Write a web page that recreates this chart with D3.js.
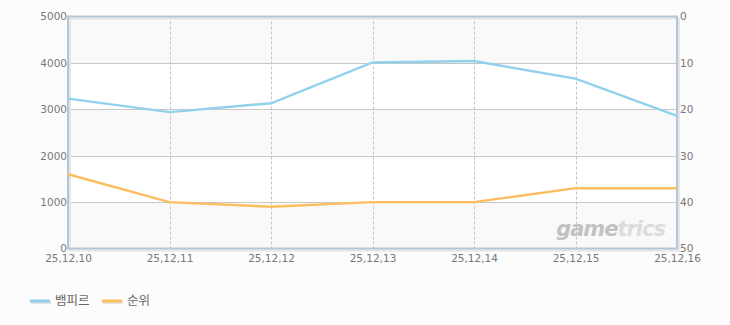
<!DOCTYPE html>
<html>
<head>
<meta charset="utf-8">
<script src="https://cdn.jsdelivr.net/npm/d3@7"></script>
<style>
  body { margin: 0; background: #fcfcfc; }
  svg { display: block; font-family: "DejaVu Sans", "Noto Sans CJK KR", sans-serif; }
</style>
</head>
<body>
<svg id="chart" width="730" height="325"></svg>
<script>
// data
const dates = ["25,12,10", "25,12,11", "25,12,12", "25,12,13", "25,12,14", "25,12,15", "25,12,16"];
const users = [3230, 2940, 3130, 4010, 4040, 3660, 2860];
const rank = [34, 40, 41, 40, 40, 37, 37];
const leftTicks = [0, 1000, 2000, 3000, 4000, 5000];
const rightTicks = [0, 10, 20, 30, 40, 50];
const seriesNames = ["뱀피르", "순위"];
const colors = ["#92d1ee", "#fbbd5e"];

const width = 730, height = 325;
const margin = {left: 68, right: 53, top: 16.5, bottom: 76.5};
const svg = d3.select("#chart");

const x = d3.scalePoint().domain(dates).range([margin.left, width - margin.right]);
const yL = d3.scaleLinear().domain([0, 5000]).range([height - margin.bottom, margin.top]);
const yR = d3.scaleLinear().domain([0, 50]).range([margin.top, height - margin.bottom]);

// alternating bands
const bands = d3.pairs(leftTicks);
svg.append("g").selectAll("rect")
  .data(bands)
  .join("rect")
    .attr("x", margin.left)
    .attr("width", width - margin.left - margin.right)
    .attr("y", d => yL(d[1]))
    .attr("height", d => yL(d[0]) - yL(d[1]))
    .attr("fill", (d, i) => i % 2 == 0 ? "#f9f9f9" : "#ffffff");

// horizontal grid
svg.append("g").selectAll("line")
  .data(leftTicks.slice(1, -1))
  .join("line")
    .attr("x1", margin.left).attr("x2", width - margin.right)
    .attr("y1", d => Math.round(yL(d)) + 0.5).attr("y2", d => Math.round(yL(d)) + 0.5)
    .attr("stroke", "#c8c8c8");

// vertical dashed grid
svg.append("g").selectAll("line")
  .data(dates.slice(1, -1))
  .join("line")
    .attr("x1", d => Math.round(x(d)) + 0.5).attr("x2", d => Math.round(x(d)) + 0.5)
    .attr("y1", margin.top).attr("y2", height - margin.bottom)
    .attr("stroke", "#c4c4c4")
    .attr("stroke-dasharray", "3,2");

// watermark
const wm = svg.append("text")
  .attr("x", 665).attr("y", 236)
  .attr("text-anchor", "end")
  .attr("font-family", "DejaVu Sans")
  .attr("font-weight", "bold")
  .attr("font-style", "italic")
  .attr("font-size", 21)
  .attr("letter-spacing", -1);
wm.append("tspan").attr("fill", "#c2c2c2").text("game");
wm.append("tspan").attr("fill", "#dcdcdc").text("trics");

// frame with shadow
const fx = margin.left, fy = margin.top;
const fw = width - margin.left - margin.right, fh = height - margin.top - margin.bottom;
svg.append("rect")
  .attr("x", fx + 2).attr("y", fy + 2).attr("width", fw).attr("height", fh)
  .attr("fill", "none").attr("stroke", "#e6e6e6").attr("stroke-width", 2);
svg.append("rect")
  .attr("x", fx).attr("y", fy).attr("width", fw).attr("height", fh)
  .attr("fill", "none").attr("stroke", "#b3c5d8").attr("stroke-width", 2);

// lines
const lineL = d3.line().x((d, i) => x(dates[i])).y(d => yL(d));
const lineR = d3.line().x((d, i) => x(dates[i])).y(d => yR(d));
svg.append("path").datum(users).attr("d", lineL)
  .attr("fill", "none").attr("stroke", colors[0]).attr("stroke-width", 2.4);
svg.append("path").datum(rank).attr("d", lineR)
  .attr("fill", "none").attr("stroke", colors[1]).attr("stroke-width", 2.4);

// axes
const leftAxis = svg.append("g")
  .attr("transform", "translate(" + (margin.left - 1) + ",0)")
  .call(d3.axisLeft(yL).tickValues(leftTicks).tickSize(0).tickPadding(0).tickFormat(d3.format("d")));
const rightAxis = svg.append("g")
  .attr("transform", "translate(" + (width - margin.right + 3) + ",0)")
  .call(d3.axisRight(yR).tickValues(rightTicks).tickSize(0).tickPadding(0));
const bottomAxis = svg.append("g")
  .attr("transform", "translate(0," + (height - margin.bottom + 5) + ")")
  .call(d3.axisBottom(x).tickSize(0).tickPadding(0));
for (let ax of [leftAxis, rightAxis, bottomAxis]) {
  ax.select(".domain").remove();
  ax.selectAll("text")
    .attr("fill", "#777")
    .attr("font-size", 10.5)
    .attr("font-family", "DejaVu Sans");
}
bottomAxis.selectAll("text").attr("dy", "0.8em");

// legend
const legend = svg.append("g").selectAll("g")
  .data(seriesNames)
  .join("g")
    .attr("transform", (d, i) => "translate(" + (30 + i * 72) + ",301)");
legend.append("line")
  .attr("x1", 1).attr("x2", 21).attr("y1", 1.5).attr("y2", 1.5)
  .attr("stroke", "#e4e4e4").attr("stroke-width", 3);
legend.append("line")
  .attr("x1", 0).attr("x2", 20).attr("y1", 0).attr("y2", 0)
  .attr("stroke", (d, i) => colors[i]).attr("stroke-width", 3);
legend.append("text")
  .attr("x", 25).attr("y", 0).attr("dy", "0.35em")
  .attr("font-family", "Noto Sans CJK KR")
  .attr("font-size", 12.5)
  .attr("fill", "#666")
  .text(d => d);
</script>
</body>
</html>
